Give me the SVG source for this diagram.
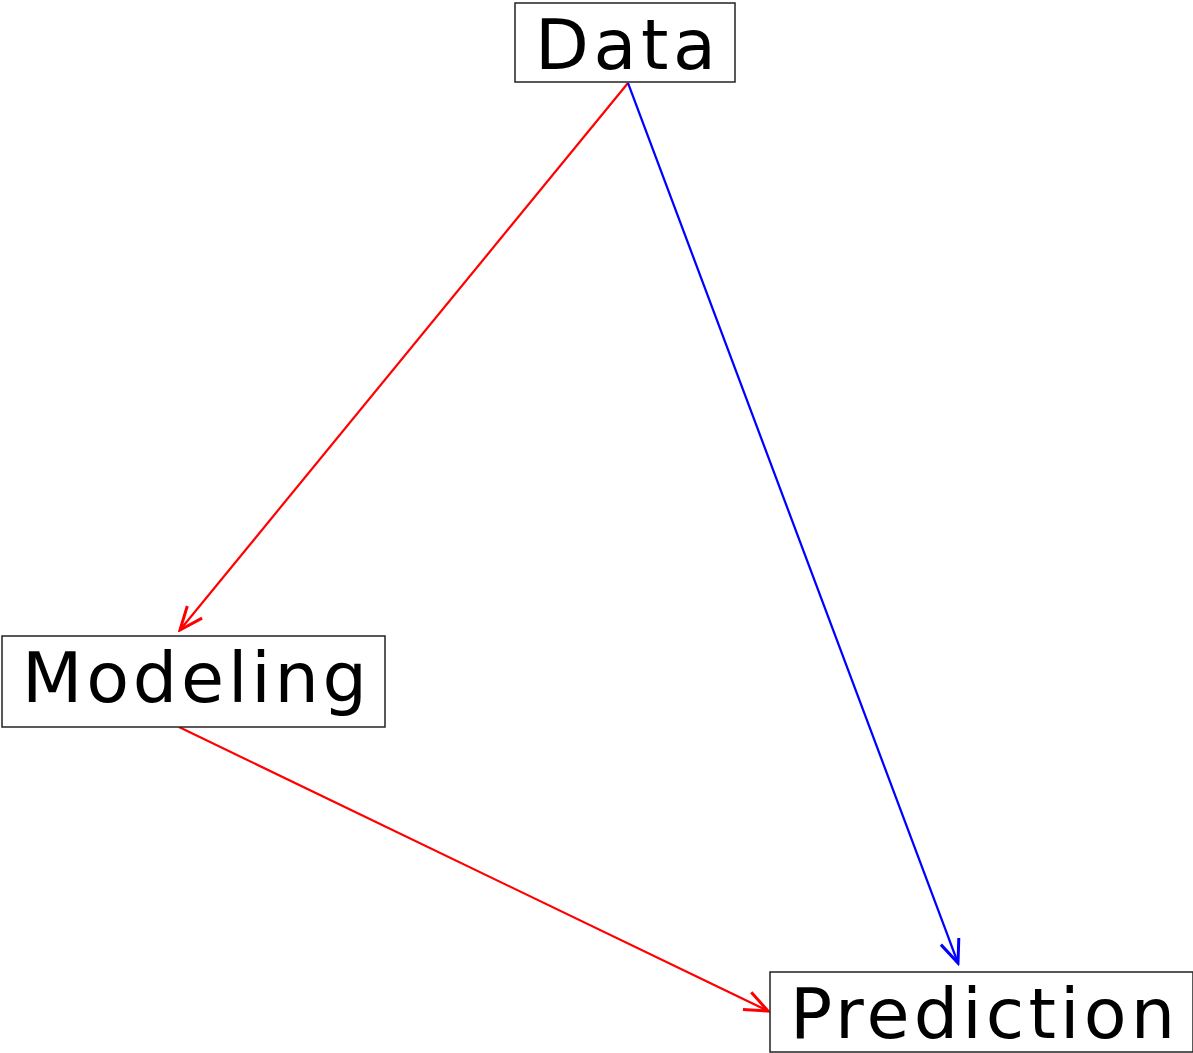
<svg xmlns="http://www.w3.org/2000/svg" width="1193" height="1053" viewBox="0 0 1193 1053">
  <style>
    .box { fill: #fff; stroke: #222; stroke-width: 1.5; }
    .label { font-family: "DejaVu Sans", "Liberation Sans", sans-serif; font-size: 70px; fill: #000; }
    .edge { fill: none; stroke-width: 2.2; }
    .red { stroke: #ff0000; }
    .blue { stroke: #0000ff; }
  </style>
  <defs>
    <marker id="headRed" markerUnits="userSpaceOnUse" markerWidth="30" markerHeight="30" viewBox="-20 -10 22 20" refX="0" refY="0" orient="auto">
      <path d="M-17,-7 L0,0 L-17,7" fill="none" stroke="#ff0000" stroke-width="2.2"/>
    </marker>
    <marker id="headBlue" markerUnits="userSpaceOnUse" markerWidth="30" markerHeight="30" viewBox="-20 -10 22 20" refX="0" refY="0" orient="auto">
      <path d="M-17,-7 L0,0 L-17,7" fill="none" stroke="#0000ff" stroke-width="2.2"/>
    </marker>
  </defs>

  <g id="connectors">
    <line class="edge red" x1="628" y1="83" x2="180" y2="630" marker-end="url(#headRed)"/>
    <line class="edge blue" x1="628" y1="83" x2="958" y2="963" marker-end="url(#headBlue)"/>
    <line class="edge red" x1="179" y1="727" x2="768" y2="1011" marker-end="url(#headRed)"/>
  </g>

  <g id="node-data">
    <rect class="box" x="515" y="3" width="220" height="79"/>
    <text class="label" x="535" y="69" textLength="181" lengthAdjust="spacing">Data</text>
  </g>

  <g id="node-modeling">
    <rect class="box" x="2" y="636" width="383" height="91"/>
    <text class="label" x="22" y="702" textLength="345" lengthAdjust="spacing">Modeling</text>
  </g>

  <g id="node-prediction">
    <rect class="box" x="770" y="972" width="423" height="80"/>
    <text class="label" x="790" y="1038" textLength="385" lengthAdjust="spacing">Prediction</text>
  </g>
</svg>
